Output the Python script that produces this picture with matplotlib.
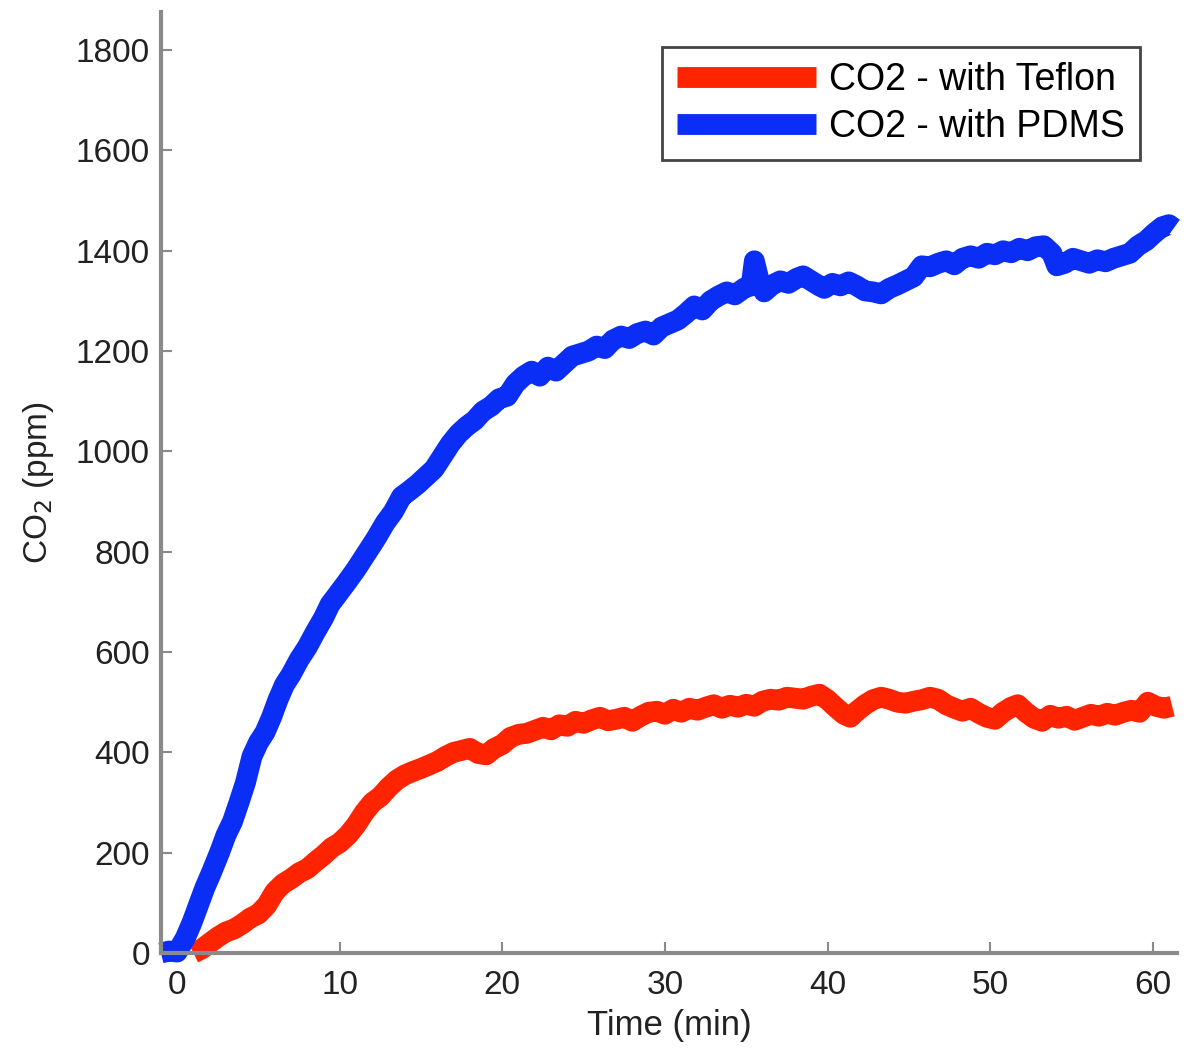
import matplotlib
matplotlib.use("Agg")
import matplotlib.pyplot as plt

plt.rcParams['font.family'] = ['Liberation Sans', 'DejaVu Sans']

# PDMS series (time in min, CO2 in ppm)
t_pdms = [-1.0, -0.5, 0.0, 0.5, 0.9, 1.3, 1.7, 2.1, 2.6, 3.0, 3.4, 3.8, 4.2, 4.6, 5.0,
          5.4, 5.8, 6.2, 6.6, 7.0, 7.5, 8.0, 8.5, 9.0, 9.4, 9.8, 10.4, 11.0, 11.6, 12.2,
          12.8, 13.3, 13.8, 14.3, 14.8, 15.3, 15.8, 16.3, 16.8, 17.3, 17.8, 18.3, 18.8,
          19.3, 19.8, 20.3, 20.8, 21.3, 21.8, 22.3, 22.8, 23.3, 23.8, 24.3, 24.8, 25.3,
          25.8, 26.3, 26.8, 27.3, 27.8, 28.3, 28.8, 29.3, 29.8, 30.3, 30.8, 31.3, 31.8,
          32.3, 32.8, 33.3, 33.8, 34.3, 34.9, 35.3, 35.5, 35.8, 36.1, 36.6, 37.1, 37.6,
          38.1, 38.5, 39.0, 39.5, 39.8, 40.3, 40.8, 41.3, 41.8, 42.3, 42.8, 43.3, 43.8,
          44.3, 44.8, 45.3, 45.8, 46.3, 46.8, 47.3, 47.8, 48.3, 48.8, 49.3, 49.8, 50.3,
          50.8, 51.3, 51.8, 52.3, 52.8, 53.3, 53.8, 54.1, 54.6, 55.1, 55.6, 56.1, 56.6,
          57.1, 57.6, 58.1, 58.6, 59.1, 59.6, 60.1, 60.6, 61.0, 61.3]
co2_pdms = [0, 4, 2, 30, 60, 95, 130, 160, 200, 235, 262, 300, 340, 392, 420,
            440, 470, 505, 535, 555, 585, 610, 640, 668, 695, 712, 738, 765, 795, 825,
            858, 880, 910, 922, 935, 950, 965, 990, 1015, 1035, 1050, 1062, 1080,
            1090, 1105, 1110, 1135, 1150, 1160, 1150, 1168, 1160, 1175, 1190, 1195, 1200,
            1210, 1205, 1222, 1230, 1225, 1235, 1240, 1232, 1248, 1255, 1262, 1275, 1290,
            1282, 1300, 1310, 1318, 1312, 1326, 1330, 1380, 1340, 1318, 1332, 1340, 1335,
            1345, 1350, 1340, 1330, 1325, 1335, 1330, 1338, 1330, 1320, 1318, 1314, 1325,
            1332, 1340, 1348, 1370, 1368, 1375, 1380, 1372, 1385, 1390, 1385, 1395, 1392,
            1400, 1396, 1405, 1400, 1408, 1410, 1395, 1370, 1375, 1385, 1380, 1375, 1382,
            1378, 1385, 1390, 1395, 1410, 1420, 1435, 1448, 1452, 1445]

# Teflon series
t_teflon = [1.0, 1.5, 2.0, 2.5, 3.0, 3.5, 4.0, 4.5, 5.0, 5.5, 6.0, 6.5, 7.0, 7.5, 8.0,
            8.5, 9.0, 9.5, 10.0, 10.5, 11.0, 11.5, 12.0, 12.5, 13.0, 13.5, 14.0, 14.5,
            15.0, 15.5, 16.0, 16.5, 17.0, 17.5, 18.0, 18.5, 19.0, 19.5, 20.0, 20.5, 21.0,
            21.5, 22.0, 22.5, 23.0, 23.5, 24.0, 24.5, 25.0, 25.5, 26.0, 26.5, 27.0, 27.5,
            28.0, 28.5, 29.0, 29.5, 30.0, 30.5, 31.0, 31.5, 32.0, 32.5, 33.0, 33.5, 34.0,
            34.5, 35.0, 35.5, 36.0, 36.5, 37.0, 37.5, 38.0, 38.5, 39.0, 39.5, 40.0, 40.5,
            41.0, 41.4, 41.8, 42.3, 42.8, 43.3, 43.8, 44.3, 44.8, 45.3, 45.8, 46.3, 46.8,
            47.3, 47.8, 48.3, 48.8, 49.3, 49.8, 50.3, 50.8, 51.3, 51.7, 52.2, 52.7, 53.2,
            53.7, 54.2, 54.7, 55.2, 55.7, 56.2, 56.7, 57.2, 57.7, 58.2, 58.7, 59.2, 59.7,
            60.2, 60.7, 61.2]
co2_teflon = [0, 8, 20, 32, 42, 48, 58, 70, 78, 95, 122, 138, 148, 160, 168,
              182, 195, 210, 220, 235, 255, 280, 300, 312, 330, 345, 355, 362,
              368, 375, 382, 392, 400, 404, 408, 398, 395, 408, 416, 430, 436,
              438, 444, 450, 445, 455, 452, 462, 458, 465, 470, 463, 466, 470,
              462, 472, 480, 482, 476, 486, 480, 488, 484, 490, 495, 488, 494,
              490, 496, 492, 502, 506, 504, 510, 508, 506, 512, 516, 505, 490,
              476, 470, 482, 495, 505, 510, 506, 500, 498, 502, 505, 510, 506,
              495, 488, 482, 488, 478, 470, 466, 480, 490, 495, 480, 468, 462,
              474, 468, 472, 464, 470, 476, 472, 478, 474, 480, 484, 480, 500,
              492, 488, 492]

xticks = [0, 10, 20, 30, 40, 50, 60]
yticks = [0, 200, 400, 600, 800, 1000, 1200, 1400, 1600, 1800]

red = '#ff2400'
blue = '#0a2ef5'
grey = '#8a8a8a'

fig = plt.figure(figsize=(11.94, 10.51), dpi=100)
ax = fig.add_axes([0.1348, 0.0932, 0.851, 0.8954])

ax.plot(t_teflon, co2_teflon, color=red, lw=15, solid_capstyle='butt',
        solid_joinstyle='round', clip_on=False, label='CO2 - with Teflon')
ax.plot(t_pdms, co2_pdms, color=blue, lw=15, solid_capstyle='butt',
        solid_joinstyle='round', clip_on=False, label='CO2 - with PDMS')

ax.set_xlim(-1, 61.5)
ax.set_ylim(0, 1876)
ax.set_xticks(xticks)
ax.set_yticks(yticks)

for s in ['top', 'right']:
    ax.spines[s].set_visible(False)
for s in ['left', 'bottom']:
    ax.spines[s].set_color(grey)
    ax.spines[s].set_linewidth(3)

ax.tick_params(direction='in', length=8, width=1.5, color=grey,
               labelsize=24, labelcolor='#222222')
ax.tick_params(axis='y', pad=8)
ax.tick_params(axis='x', pad=12)

ax.set_xlabel('Time (min)', fontsize=25, color='#222222', labelpad=6)
ax.set_ylabel('CO$_2$ (ppm)', fontsize=24, color='#222222', labelpad=14)

leg = ax.legend(loc='upper right', bbox_to_anchor=(1140 / 1194, 1 - 47 / 1051),
                bbox_transform=fig.transFigure, borderaxespad=0, fontsize=27,
                handlelength=3.7, handletextpad=0.35, borderpad=0.4,
                labelspacing=0.3, fancybox=False, framealpha=1, edgecolor='#444444')
leg.get_frame().set_linewidth(2)

fig.savefig('out.png', dpi=100)
